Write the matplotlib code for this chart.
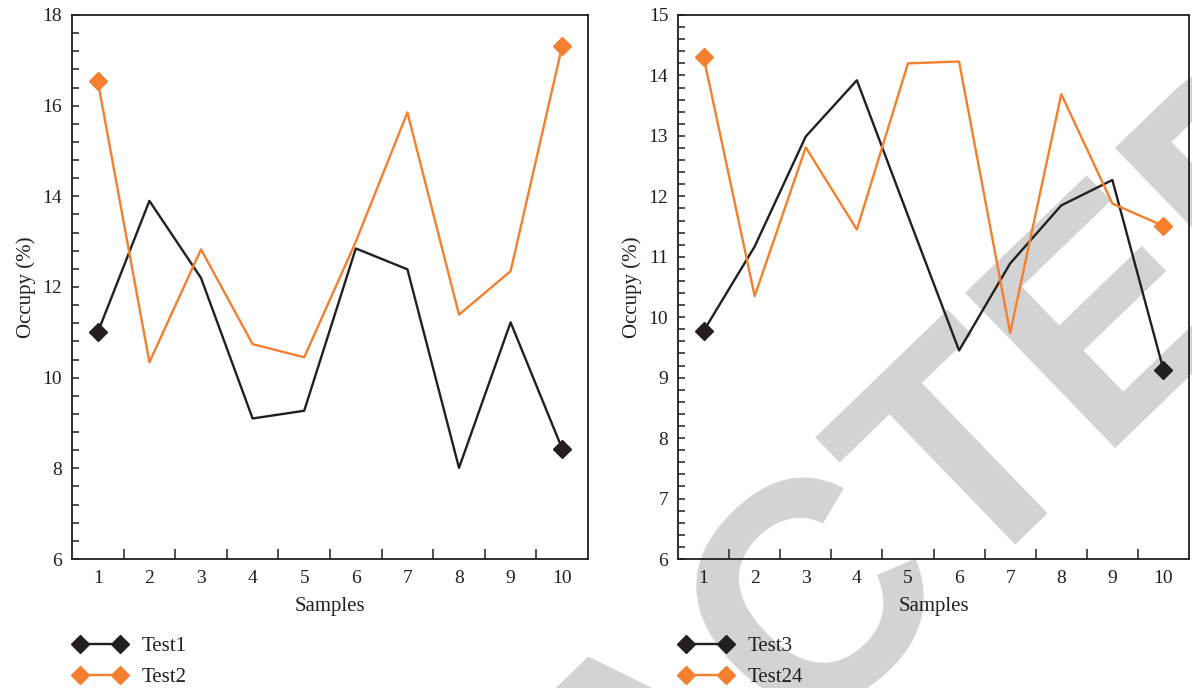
import numpy as np
import matplotlib.pyplot as plt
from matplotlib.ticker import MultipleLocator, FixedLocator

# data
samples = np.arange(1, 11)
test1 = [11.0, 13.9, 12.2, 9.1, 9.27, 12.85, 12.39, 8.01, 11.22, 8.43]
test2 = [16.54, 10.34, 12.83, 10.74, 10.45, 13.0, 15.85, 11.39, 12.35, 17.32]
test3 = [9.77, 11.17, 12.99, 13.92, 11.68, 9.45, 10.89, 11.85, 12.27, 9.13]
test24 = [14.31, 10.35, 12.81, 11.45, 14.2, 14.23, 9.74, 13.69, 11.88, 11.51]

black = '#231f20'
orange = '#f47f2e'
serif = ['Liberation Serif', 'DejaVu Serif']

plt.rcParams['font.family'] = serif

fig = plt.figure(figsize=(11.92, 6.88), dpi=100)

# watermark, behind everything
fig.text(0.552, -0.1, 'RETRACTED', fontsize=225, fontweight='bold',
         family=['Liberation Sans', 'DejaVu Sans'], color='#d3d3d3',
         rotation=44, rotation_mode='anchor', ha='center', va='center',
         zorder=-5)

ax1 = fig.add_axes([0.0604, 0.1875, 0.4329, 0.7907])
ax2 = fig.add_axes([0.5688, 0.1875, 0.4287, 0.7907])


def style(ax, ylo, yhi, ymajor, yminor, sa, sb, la, lb):
    ax.set_facecolor('none')
    ax.plot(samples, sa, color=black, lw=1.7, marker='D', ms=9,
            markevery=[0, -1], label=la, zorder=3)
    ax.plot(samples, sb, color=orange, lw=1.7, marker='D', ms=9,
            markevery=[0, -1], label=lb, zorder=3)
    ax.set_xlim(0.5, 10.5)
    ax.set_ylim(ylo, yhi)
    ax.xaxis.set_major_locator(FixedLocator(samples))
    ax.xaxis.set_minor_locator(FixedLocator(samples[:-1] + 0.5))
    ax.yaxis.set_major_locator(MultipleLocator(ymajor))
    ax.yaxis.set_minor_locator(MultipleLocator(yminor))
    ax.tick_params(axis='x', which='major', length=0, pad=8, labelsize=14, colors=black)
    ax.tick_params(axis='x', which='minor', direction='in', length=7, width=1.1, colors=black)
    ax.tick_params(axis='y', which='both', direction='in', length=5, width=1.1,
                   pad=7, labelsize=14, colors=black)
    for s in ax.spines.values():
        s.set_linewidth(1.3)
        s.set_color(black)
    ax.set_xlabel('Samples', fontsize=15, color=black, labelpad=7)
    ax.set_ylabel('Occupy (%)', fontsize=15, color=black, labelpad=5)
    leg = fig.legend(handles=ax.get_lines(), loc='upper left',
                     bbox_to_anchor=(ax.get_position().x0 - 0.007, 0.09),
                     frameon=False, numpoints=2, handlelength=2.5,
                     handletextpad=0.75, labelspacing=0.55, fontsize=15,
                     borderpad=0)
    for t in leg.get_texts():
        t.set_color(black)


style(ax1, 6, 18, 2, 0.4, test1, test2, 'Test1', 'Test2')
style(ax2, 6, 15, 1, 0.2, test3, test24, 'Test3', 'Test24')

fig.savefig('out.png', dpi=100)
